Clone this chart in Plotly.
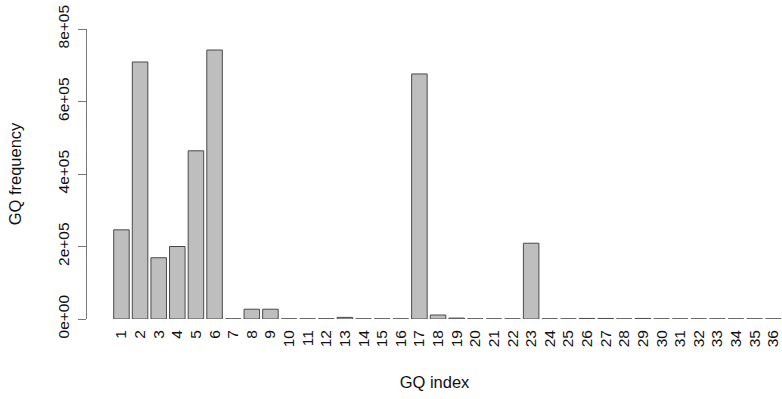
import plotly.graph_objects as go

categories = [str(i) for i in range(1, 37)]
gq_frequency = [
    246000, 709000, 169000, 200000, 464000, 742000, 300, 27000, 27000, 300,
    300, 600, 4500, 300, 300, 300, 676000, 11000, 2500, 300,
    300, 300, 209000, 300, 300, 1500, 1500, 300, 1500, 300,
    300, 300, 300, 300, 300, 300,
]
y_tick_values = [0, 200000, 400000, 600000, 800000]
y_tick_labels = ["0e+00", "2e+05", "4e+05", "6e+05", "8e+05"]

FONT = "Liberation Sans, Arial, sans-serif"
TXT = "#111"

fig = go.Figure(
    go.Bar(
        x=categories,
        y=gq_frequency,
        marker=dict(color="#bebebe", line=dict(color="#4a4a4a", width=1)),
        cliponaxis=False,
    )
)

fig.update_layout(
    width=782,
    height=399,
    margin=dict(l=87, r=0, t=29, b=80),
    plot_bgcolor="white",
    paper_bgcolor="white",
    bargap=1 - 1 / 1.2,
    showlegend=False,
    font=dict(family=FONT, size=15, color=TXT),
)

fig.update_xaxes(
    type="category",
    range=[-1.85, 35.47],
    tickmode="array",
    tickvals=categories,
    ticktext=categories,
    showline=False,
    showgrid=False,
    zeroline=False,
    ticks="",
    tickangle=-90,
    tickfont=dict(size=15.5, family=FONT, color=TXT),
    ticklabelstandoff=7,
    title=dict(text="GQ index", font=dict(size=16.5, family=FONT, color=TXT), standoff=30),
)

fig.update_yaxes(
    range=[0, 800000],
    tickvals=y_tick_values,
    ticktext=y_tick_labels,
    showline=True,
    linecolor="#777",
    linewidth=1,
    ticks="outside",
    ticklen=8,
    tickcolor="#777",
    showgrid=False,
    zeroline=False,
    tickangle=-90,
    tickfont=dict(size=15.5, family=FONT, color=TXT),
    ticklabelstandoff=3,
    title=dict(text="GQ frequency", font=dict(size=16.5, family=FONT, color=TXT), standoff=29),
)

fig.write_html("out.html")
